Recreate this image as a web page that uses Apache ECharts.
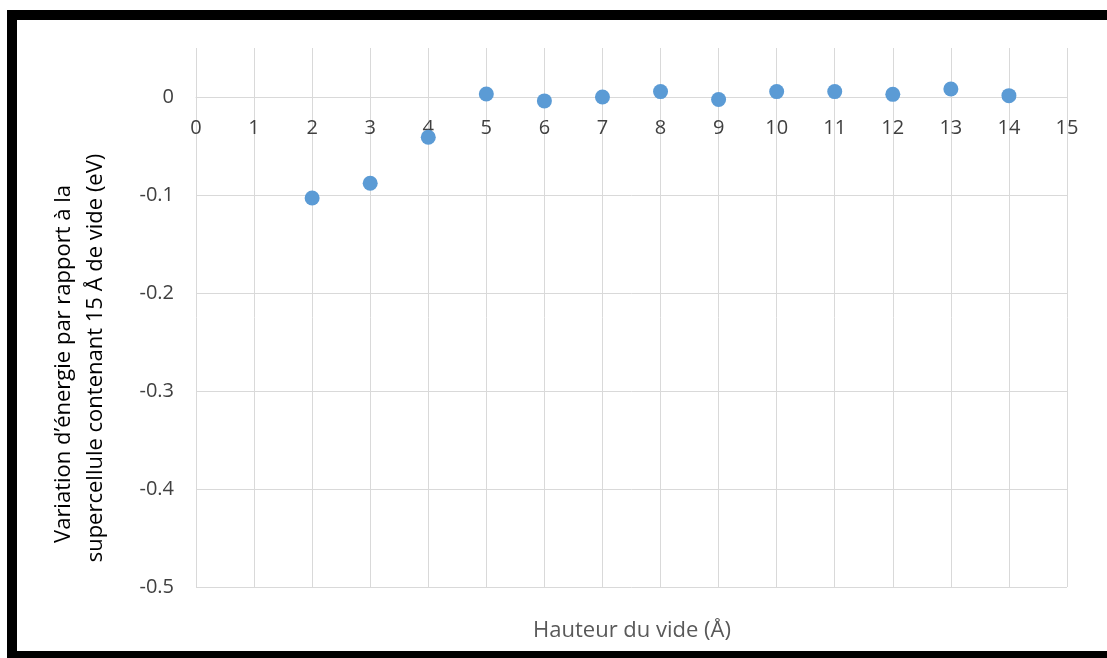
<!DOCTYPE html>
<html>
<head>
<meta charset="utf-8">
<script src="https://cdn.jsdelivr.net/npm/echarts@6/dist/echarts.min.js"></script>
<style>
html,body{margin:0;padding:0;background:#fff;}
#c{width:1107px;height:658px;}
</style>
</head>
<body>
<div id="c"></div>
<script>
const xValues = [2, 3, 4, 5, 6, 7, 8, 9, 10, 11, 12, 13, 14];
const yValues = [-0.103, -0.088, -0.041, 0.003, -0.004, 0.0, 0.0055, -0.0025, 0.0055, 0.0055, 0.0027, 0.0082, 0.0014];
const xTitle = 'Hauteur du vide (Å)';
const yTitleLines = ['Variation d\u2019énergie par rapport à la', 'supercellule contenant 15 Å de vide (eV)'];
const yMin = -0.5, yMax = 0.05, yStep = 0.1;

const chart = echarts.init(document.getElementById('c'), null, {renderer: 'canvas'});
const FONT = 'Open Sans';
chart.setOption({
  animation: false,
  backgroundColor: '#fff',
  grid: {left: 196, right: 40, top: 48, bottom: 71, containLabel: false},
  xAxis: {
    type: 'value', min: 0, max: 15, interval: 1, position: 'bottom', offset: 0,
    axisLine: {show: true, onZero: false, lineStyle: {color: '#d9d9d9', width: 1}},
    axisTick: {show: false},
    axisLabel: {color: '#404040', fontFamily: FONT, fontSize: 20, margin: 21},
    splitLine: {show: true, lineStyle: {color: '#d9d9d9', width: 1}}
  },
  yAxis: {
    type: 'value', min: yMin, max: yMax, interval: yStep,
    axisLine: {show: false, onZero: false}, axisTick: {show: false},
    axisLabel: {color: '#404040', fontFamily: FONT, fontSize: 20, margin: 22, showMaxLabel: false,
      formatter: v => (Math.abs(v) < 1e-9 ? '0' : String(Math.round(v * 10) / 10))},
    splitLine: {show: true, showMaxLine: false, lineStyle: {color: '#d9d9d9', width: 1}}
  },
  series: [{
    type: 'scatter',
    data: xValues.map((x, i) => [x, yValues[i]]),
    symbol: 'circle', symbolSize: 15,
    itemStyle: {color: '#5b9bd5', opacity: 1}
  }],
  graphic: [
    {type: 'rect', shape: {x: 12, y: 15, width: 1120, height: 641}, style: {fill: 'none', stroke: '#000', lineWidth: 10}, z: 100},
    {type: 'text', x: 632, y: 631, style: {text: xTitle, fill: '#595959', font: '22px "Open Sans"', align: 'center', verticalAlign: 'middle'}, z: 100},
    {type: 'text', x: 64, y: 364, rotation: Math.PI / 2, style: {text: yTitleLines[0], fill: '#000', font: '22px "Open Sans"', align: 'center', verticalAlign: 'middle'}, z: 100},
    {type: 'text', x: 96, y: 358, rotation: Math.PI / 2, style: {text: yTitleLines[1], fill: '#000', font: '22px "Open Sans"', align: 'center', verticalAlign: 'middle'}, z: 100}
  ]
});
// Move the x axis up so it crosses the y axis at zero (Excel style), using the library's own scale.
const zeroPx = chart.convertToPixel({yAxisIndex: 0}, 0);
const bottomPx = chart.convertToPixel({yAxisIndex: 0}, yMin);
chart.setOption({xAxis: {offset: zeroPx - bottomPx}});
</script>
</body>
</html>
